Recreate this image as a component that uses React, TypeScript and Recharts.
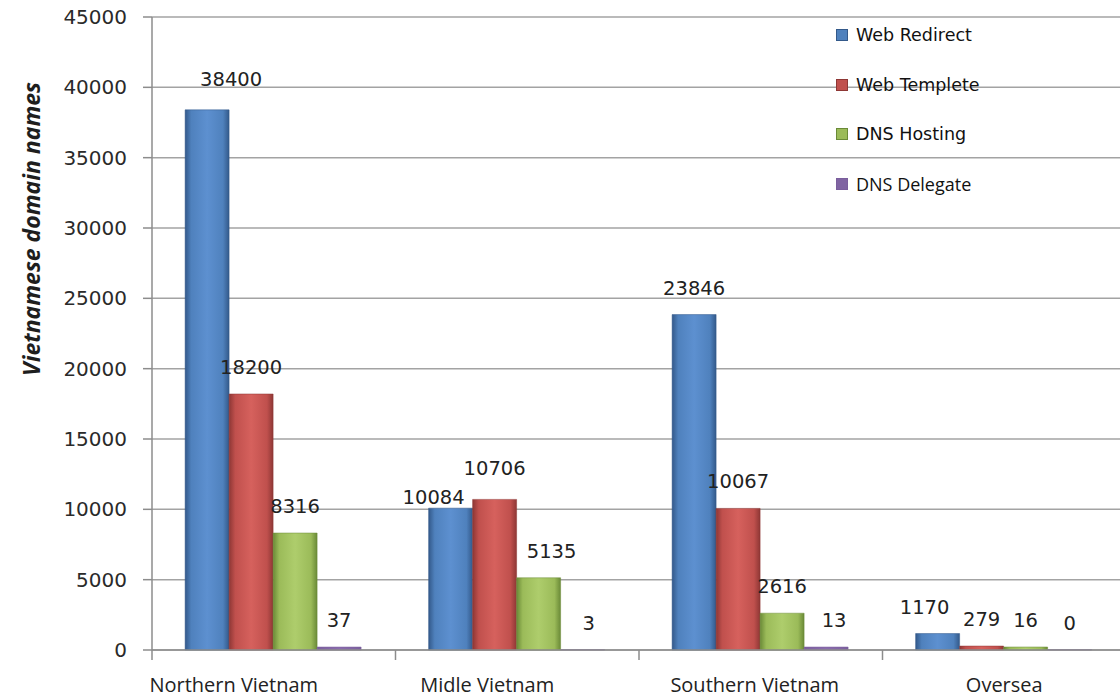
import { BarChart, Bar, XAxis, YAxis, CartesianGrid, LabelList } from "recharts";

const REGIONS = ["Northern Vietnam", "Midle Vietnam", "Southern Vietnam", "Oversea"];
const WEB_REDIRECT = [38400, 10084, 23846, 1170];
const WEB_TEMPLETE = [18200, 10706, 10067, 279];
const DNS_HOSTING = [8316, 5135, 2616, 16];
const DNS_DELEGATE = [37, 3, 13, 0];
const Y_TICKS = [0, 5000, 10000, 15000, 20000, 25000, 30000, 35000, 40000, 45000];

const SERIES = [
  { key: "redirect", name: "Web Redirect", values: WEB_REDIRECT, edge: "#33598a", mid: "#4f81bd", light: "#5d90d0" },
  { key: "templete", name: "Web Templete", values: WEB_TEMPLETE, edge: "#8e3735", mid: "#c0504d", light: "#d6615d" },
  { key: "hosting", name: "DNS Hosting", values: DNS_HOSTING, edge: "#6a8a37", mid: "#9bbb59", light: "#aecd6c" },
  { key: "delegate", name: "DNS Delegate", values: DNS_DELEGATE, edge: "#7a5e9c", mid: "#8064a2", light: "#8a6cad" },
];

const data = REGIONS.map((region, i) => {
  const row: Record<string, string | number> = { region };
  SERIES.forEach((s) => { row[s.key] = s.values[i]; });
  return row;
});

const W = 1120;
const H = 698;
const LEFT = 152;
const RIGHT = -6;
const BAND = (W - LEFT - RIGHT) / REGIONS.length;
// the original's category labels sit a little left of the band centres
const TICK_DX = [-40, -30, -6, 0];
// a few value labels were dragged by hand in the original
const LABEL_NUDGE: Record<string, [number, number]> = {
  "redirect-0": [24, -4],
  "redirect-1": [-17, 16],
  "templete-1": [0, -4],
  "hosting-1": [13, 0],
  "redirect-3": [-13, 0],
  "delegate-2": [8, 0],
  "delegate-1": [6, 0],
};

const NUM_FONT = "'DejaVu Sans', Verdana, sans-serif";
const TXT_FONT = "'Open Sans', Calibri, sans-serif";

function XTick({ x, y, payload, index }: any) {
  const edge = x - BAND / 2;
  return (
    <g>
      <line x1={edge} x2={edge} y1={y} y2={y + 10} stroke="#8c8c8c" strokeWidth={1.5} />
      <text x={x + (TICK_DX[index] ?? 0)} y={y + 42} textAnchor="middle" fontFamily={TXT_FONT} fontSize={20} fill="#222">
        {payload.value}
      </text>
    </g>
  );
}

function valueLabel(seriesKey: string) {
  return (props: any) => {
    const { x, y, width, value, index } = props;
    const [dx, dy] = LABEL_NUDGE[`${seriesKey}-${index}`] ?? [0, 0];
    return (
      <text x={Number(x) + Number(width) / 2 + dx} y={Number(y) - 20 + dy} textAnchor="middle" fontFamily={NUM_FONT} fontSize={19.5} fill="#222">
        {value}
      </text>
    );
  };
}

function LegendBox() {
  return (
    <div style={{ position: "absolute", left: 836, top: 15, width: 240 }}>
      {SERIES.map((s, i) => (
        <div
          key={s.key}
          style={{
            display: "flex",
            alignItems: "center",
            height: 40,
            marginBottom: i < SERIES.length - 1 ? 9.5 : 0,
            background: s.key === "delegate" ? "#fff" : "transparent",
            width: s.key === "delegate" ? 224 : undefined,
          }}
        >
          <span style={{ width: 12, height: 12, background: s.mid, border: `1px solid ${s.edge}`, boxSizing: "border-box", marginRight: 8 }} />
          <span
            style={{
              fontFamily: s.key === "delegate" ? TXT_FONT : NUM_FONT,
              fontSize: s.key === "delegate" ? 18 : 17.5,
              color: "#111",
              whiteSpace: "nowrap",
            }}
          >
            {s.name}
          </span>
        </div>
      ))}
    </div>
  );
}

export default function App() {
  return (
    <div style={{ width: W, height: H, background: "#fff", position: "relative", overflow: "hidden" }}>
      <style>{"body{margin:0}"}</style>
      <BarChart
        width={W}
        height={H}
        data={data}
        margin={{ top: 17, right: RIGHT, bottom: 0, left: 0 }}
        barCategoryGap="13.6%"
        barGap={0}
      >
        <defs>
          {SERIES.map((s) => (
            <linearGradient key={s.key} id={`grad-${s.key}`} x1="0" y1="0" x2="1" y2="0">
              <stop offset="0%" stopColor={s.edge} />
              <stop offset="14%" stopColor={s.mid} />
              <stop offset="50%" stopColor={s.light} />
              <stop offset="86%" stopColor={s.mid} />
              <stop offset="100%" stopColor={s.edge} />
            </linearGradient>
          ))}
        </defs>
        <CartesianGrid vertical={false} stroke="#a3a3a3" strokeWidth={1.5} />
        <XAxis
          dataKey="region"
          height={48}
          axisLine={{ stroke: "#8c8c8c", strokeWidth: 1.5 }}
          tickLine={false}
          tickSize={0}
          tickMargin={0}
          tick={<XTick />}
          interval={0}
        />
        <YAxis
          width={LEFT}
          domain={[0, 45000]}
          ticks={Y_TICKS}
          interval={0}
          axisLine={{ stroke: "#8c8c8c", strokeWidth: 1.5 }}
          tickLine={{ stroke: "#8c8c8c", strokeWidth: 1.5 }}
          tickSize={9}
          tickMargin={16}
          tick={{ fontFamily: NUM_FONT, fontSize: 20, fill: "#2a2a2a" }}
          label={{
            content: () => (
              <text
                x={40}
                y={229}
                transform="rotate(-90 40 229)"
                textAnchor="middle"
                fontFamily={TXT_FONT}
                fontStyle="italic"
                fontWeight="bold"
                fontSize={23}
                fill="#1e1e1e"
              >
                Vietnamese domain names
              </text>
            ),
          }}
        />
        {SERIES.map((s) => (
          <Bar
            key={s.key}
            dataKey={s.key}
            name={s.name}
            fill={`url(#grad-${s.key})`}
            stroke={s.edge}
            strokeWidth={0.5}
            minPointSize={(v: number) => (v >= 10 ? 3 : 0.3)}
            isAnimationActive={false}
          >
            <LabelList dataKey={s.key} content={valueLabel(s.key)} />
          </Bar>
        ))}
      </BarChart>
      <LegendBox />
    </div>
  );
}
